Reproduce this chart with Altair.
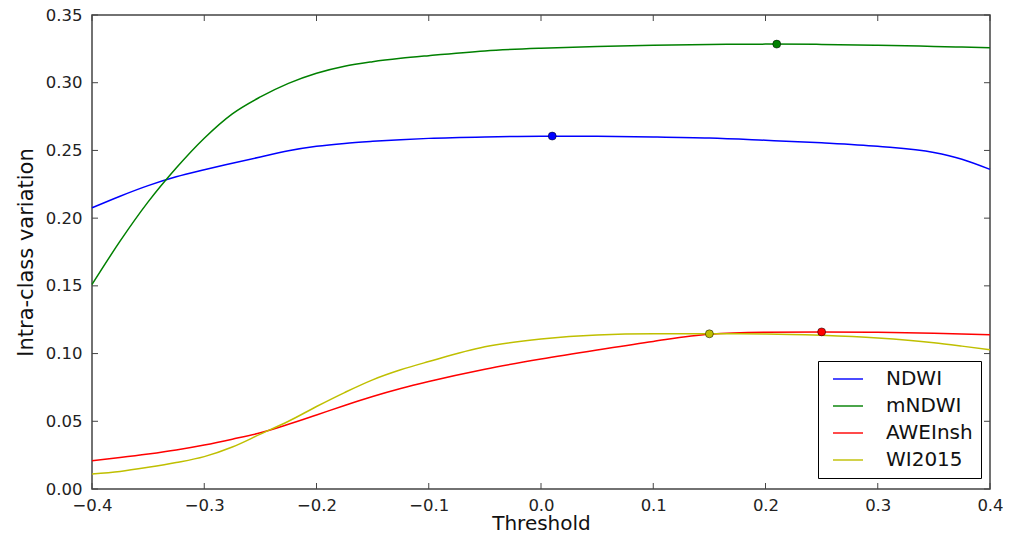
import altair as alt
import pandas as pd

threshold = [-0.4, -0.375, -0.35, -0.325, -0.3, -0.275, -0.25, -0.225, -0.2, -0.175,
             -0.15, -0.125, -0.1, -0.05, 0.0, 0.05, 0.1, 0.15, 0.2, 0.25, 0.3, 0.35, 0.375, 0.4]
ndwi = [0.2076, 0.2162, 0.2240, 0.2305, 0.2357, 0.2405, 0.2452, 0.2497, 0.2530, 0.2552,
        0.2567, 0.2579, 0.2589, 0.2600, 0.2605, 0.2604, 0.2600, 0.2592, 0.2575, 0.2556,
        0.2530, 0.2485, 0.2435, 0.2360]
mndwi = [0.151, 0.183, 0.212, 0.237, 0.259, 0.277, 0.2895, 0.2995, 0.3070, 0.3122,
         0.3155, 0.318, 0.320, 0.3235, 0.3255, 0.3268, 0.3277, 0.3282, 0.3285, 0.3283,
         0.3277, 0.3268, 0.3263, 0.3259]
aweinsh = [0.0209, 0.0232, 0.0258, 0.0288, 0.0325, 0.0368, 0.0415, 0.0478, 0.0547, 0.0617,
           0.0683, 0.0742, 0.0794, 0.0885, 0.0960, 0.1027, 0.1090, 0.1142, 0.1157, 0.1160,
           0.1157, 0.1150, 0.1145, 0.1139]
wi2015 = [0.0111, 0.0130, 0.0160, 0.0195, 0.0239, 0.0310, 0.0405, 0.0500, 0.0609, 0.0712,
          0.0806, 0.0880, 0.0941, 0.1050, 0.1108, 0.1138, 0.1146, 0.1146, 0.1145, 0.1135,
          0.1115, 0.1080, 0.1055, 0.1028]

series_names = ["NDWI", "mNDWI", "AWEInsh", "WI2015"]
series_colors = ["#0000ff", "#008000", "#ff0000", "#bfbf00"]

peak_x = [0.01, 0.21, 0.25, 0.15]
peak_y = [0.2606, 0.3285, 0.1160, 0.1146]

x_ticks = [-0.4, -0.3, -0.2, -0.1, 0.0, 0.1, 0.2, 0.3, 0.4]
y_ticks = [0.0, 0.05, 0.10, 0.15, 0.20, 0.25, 0.30, 0.35]

rows = []
for name, vals in zip(series_names, [ndwi, mndwi, aweinsh, wi2015]):
    for t, v in zip(threshold, vals):
        rows.append({"Threshold": t, "value": v, "index": name})
df = pd.DataFrame(rows)
peaks = pd.DataFrame({"Threshold": peak_x, "value": peak_y, "index": series_names})
xt = pd.DataFrame({"Threshold": x_ticks})
yt = pd.DataFrame({"value": y_ticks})

W, H = 898, 474
TL = 6

xscale = alt.Scale(domain=[-0.4, 0.4], nice=False, zero=False)
yscale = alt.Scale(domain=[0, 0.35], nice=False, zero=False)
cscale = alt.Scale(domain=series_names, range=series_colors)

xaxis = alt.Axis(values=x_ticks, format=".1f", title="Threshold", labelFlush=False,
                 labelExpr="replace(datum.label, '-', '\u2212')", labelPadding=8,
                 titleY=40, titleBaseline="alphabetic", titleFontSize=20)
yaxis = alt.Axis(values=y_ticks, format=".2f", title="Intra-class variation", labelFlush=False)

X = alt.X("Threshold:Q", scale=xscale, axis=xaxis)
Y = alt.Y("value:Q", scale=yscale, axis=yaxis)

lines = alt.Chart(df).mark_line(strokeWidth=1.5, interpolate="monotone").encode(
    x=X, y=Y,
    color=alt.Color("index:N", scale=cscale, sort=series_names,
                    legend=alt.Legend(title=None)),
)

dots = alt.Chart(peaks).mark_circle(size=64, opacity=1, stroke="black", strokeWidth=0.5).encode(
    x=X, y=Y,
    color=alt.Color("index:N", scale=cscale, sort=series_names, legend=alt.Legend(title=None)),
)

tick_style = dict(color="#444", strokeWidth=1)
xb = alt.Chart(xt).mark_rule(**tick_style).encode(x=X, y=alt.value(H), y2=alt.value(H - TL))
xtop = alt.Chart(xt).mark_rule(**tick_style).encode(x=X, y=alt.value(0), y2=alt.value(TL))
yl = alt.Chart(yt).mark_rule(**tick_style).encode(y=Y, x=alt.value(0), x2=alt.value(TL))
yr = alt.Chart(yt).mark_rule(**tick_style).encode(y=Y, x=alt.value(W), x2=alt.value(W - TL))

chart = alt.layer(lines, dots, xb, xtop, yl, yr).properties(
    width=W, height=H,
    autosize=alt.AutoSizeParams(type="none"),
    padding={"left": 84, "top": 7, "right": 13, "bottom": 42},
).configure_view(
    stroke="#444", strokeWidth=1.5
).configure_axis(
    domain=False, ticks=False, grid=False,
    labelFont="DejaVu Sans", labelFontSize=16.5, labelColor="#222", labelPadding=10,
    titleFont="DejaVu Sans", titleFontSize=21, titleFontWeight="normal", titleColor="#111",
).configure_axisY(titlePadding=9).configure_legend(
    orient="none", legendX=726, legendY=346,
    strokeColor="black", fillColor="white", padding=8, cornerRadius=0,
    symbolType="M-2,0H2", symbolSize=225, symbolStrokeWidth=2, symbolOpacity=0.7,
    symbolFillColor="transparent", symbolOffset=12,
    labelFont="DejaVu Sans", labelFontSize=20, labelColor="#111", labelOffset=28,
    rowPadding=7,
)

chart.save("out.html", embed_options={"renderer": "svg", "actions": False})
